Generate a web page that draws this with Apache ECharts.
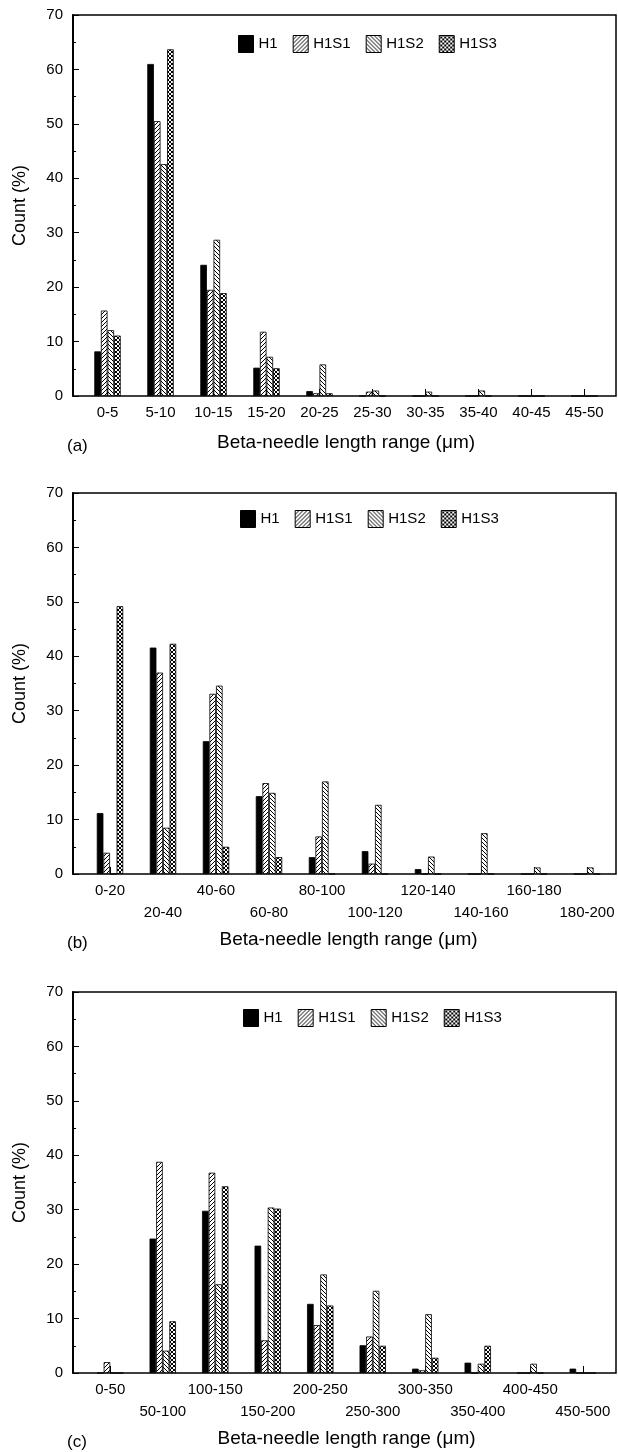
<!DOCTYPE html>
<html>
<head>
<meta charset="utf-8">
<script src="https://cdn.jsdelivr.net/npm/echarts@6/dist/echarts.min.js"></script>
<style>
html,body{margin:0;padding:0;background:#fff;}
#chart{width:618px;height:1452px;}
</style>
</head>
<body>
<div id="chart"></div>
<script>
// ---------- DATA ----------
const seriesNames = ['H1', 'H1S1', 'H1S2', 'H1S3'];
const panelLabels = ['(a)', '(b)', '(c)'];
const xTitle = 'Beta-needle length range (\u03bcm)';
const yTitle = 'Count (%)';

const categoriesA = ['0-5', '5-10', '10-15', '15-20', '20-25', '25-30', '30-35', '35-40', '40-45', '45-50'];
const h1A   = [8.2, 61, 24.1, 5.2, 0.9, 0, 0, 0, 0, 0];
const h1s1A = [15.7, 50.5, 19.5, 11.8, 0.5, 0.8, 0, 0, 0, 0];
const h1s2A = [12.1, 42.6, 28.7, 7.2, 5.8, 1.0, 0.8, 1.0, 0, 0];
const h1s3A = [11.1, 63.7, 18.9, 5.1, 0.5, 0, 0, 0, 0, 0];

const categoriesB = ['0-20', '20-40', '40-60', '60-80', '80-100', '100-120', '120-140', '140-160', '160-180', '180-200'];
const h1B   = [11.2, 41.6, 24.4, 14.3, 3.1, 4.2, 0.9, 0, 0, 0];
const h1s1B = [3.9, 37.0, 33.1, 16.7, 6.9, 1.9, 0, 0, 0, 0];
const h1s2B = [0, 8.5, 34.6, 14.9, 17.0, 12.7, 3.2, 7.5, 1.2, 1.2];
const h1s3B = [49.2, 42.3, 5.0, 3.1, 0, 0, 0, 0, 0, 0];

const categoriesC = ['0-50', '50-100', '100-150', '150-200', '200-250', '250-300', '300-350', '350-400', '400-450', '450-500'];
const h1C   = [0, 24.7, 29.8, 23.4, 12.7, 5.1, 0.8, 1.9, 0, 0.8];
const h1s1C = [2.0, 38.8, 36.8, 6.0, 8.8, 6.7, 0.5, 0, 0, 0];
const h1s2C = [0, 4.1, 16.3, 30.4, 18.1, 15.1, 10.8, 1.7, 1.7, 0];
const h1s3C = [0, 9.5, 34.3, 30.2, 12.4, 5.0, 2.8, 5.0, 0, 0];

// ---------- STYLE / LAYOUT ----------
const FONT = '"Liberation Sans", Arial, Helvetica, sans-serif';
const panels = [
  { cats: categoriesA, vals: [h1A, h1s1A, h1s2A, h1s3A], top: 15, barLeft: 81, barRight: 7, stagger: false, legendLeft: 238, legendTop: 35 },
  { cats: categoriesB, vals: [h1B, h1s1B, h1s2B, h1s3B], top: 493, barLeft: 83.5, barRight: 4.5, stagger: true, legendLeft: 240, legendTop: 510 },
  { cats: categoriesC, vals: [h1C, h1s1C, h1s2C, h1s3C], top: 992, barLeft: 84, barRight: 9, stagger: true, legendLeft: 243, legendTop: 1009 }
];
const H = 381;

function hatch(kind, size) {
  const c = document.createElement('canvas');
  c.width = size; c.height = size;
  const ctx = c.getContext('2d');
  ctx.fillStyle = '#fff';
  ctx.fillRect(0, 0, size, size);
  ctx.strokeStyle = '#000';
  ctx.lineWidth = 1;
  function fwd() {
    for (let k = -1; k <= 1; k++) {
      ctx.beginPath();
      ctx.moveTo(k * size, size); ctx.lineTo(k * size + size, 0);
      ctx.stroke();
    }
  }
  function back() {
    for (let k = -1; k <= 1; k++) {
      ctx.beginPath();
      ctx.moveTo(k * size, 0); ctx.lineTo(k * size + size, size);
      ctx.stroke();
    }
  }
  if (kind === 'fwd') fwd();
  if (kind === 'back') back();
  if (kind === 'cross') { fwd(); back(); }
  return { image: c, repeat: 'repeat' };
}
const fills = ['#000', hatch('fwd', 4), hatch('back', 4), hatch('cross', 4)];

const grid = [], xAxis = [], yAxis = [], series = [], legend = [], title = [];

panels.forEach((p, k) => {
  // frame grid (with the y axis)
  grid.push({ left: 73, right: 2, top: p.top, height: H, show: true, borderColor: '#000', borderWidth: 1.5, backgroundColor: 'transparent' });
  // bar grid
  grid.push({ left: p.barLeft, right: p.barRight, top: p.top, height: H });

  xAxis.push({ gridIndex: 2 * k, type: 'value', show: false, min: 0, max: 1 });
  xAxis.push({
    gridIndex: 2 * k + 1, type: 'category', data: p.cats,
    axisLine: { show: false },
    axisTick: { show: true, inside: true, alignWithLabel: true, length: 7, interval: 0, lineStyle: { color: '#000', width: 1 } },
    axisLabel: {
      interval: 0, fontSize: 15, color: '#000', margin: 6, lineHeight: 22, fontFamily: FONT,
      formatter: (v, i) => (p.stagger && i % 2 === 1) ? '\n' + v : v
    },
    name: xTitle, nameLocation: 'middle', nameGap: p.stagger ? 56 : 37,
    nameTextStyle: { fontSize: 19, color: '#000', fontFamily: FONT }
  });

  yAxis.push({
    gridIndex: 2 * k, type: 'value', min: 0, max: 70, interval: 10,
    axisLine: { show: true, lineStyle: { color: '#000', width: 2 } },
    axisTick: { show: true, inside: true, length: 6, lineStyle: { color: '#000' } },
    minorTick: { show: true, splitNumber: 2, length: 3, lineStyle: { color: '#000' } },
    splitLine: { show: false },
    axisLabel: { fontSize: 15, color: '#000', margin: 10, fontFamily: FONT },
    name: yTitle, nameLocation: 'middle', nameGap: 44,
    nameTextStyle: { fontSize: 18, color: '#000', fontFamily: FONT }
  });
  yAxis.push({ gridIndex: 2 * k + 1, type: 'value', min: 0, max: 70, show: false });

  seriesNames.forEach((name, s) => {
    series.push({
      type: 'bar', name: name,
      xAxisIndex: 2 * k + 1, yAxisIndex: 2 * k + 1,
      data: p.vals[s],
      barWidth: 6.6, barGap: '0%',
      itemStyle: { color: fills[s], borderColor: '#000', borderWidth: 0.8 },
      silent: true
    });
  });

  legend.push({
    data: seriesNames, left: p.legendLeft, top: p.legendTop, padding: 0,
    itemWidth: 15, itemHeight: 17, itemGap: 15, icon: 'rect',
    itemStyle: { borderColor: '#000', borderWidth: 1 },
    textStyle: { fontSize: 15, color: '#000', fontFamily: FONT },
    selectedMode: false
  });

  title.push({
    text: panelLabels[k], left: 62,
    top: p.top + H + (p.stagger ? 56 : 37),
    textStyle: { fontSize: 17, fontWeight: 'normal', color: '#000', fontFamily: FONT }
  });
});

const chart = echarts.init(document.getElementById('chart'), null, { renderer: 'canvas' });
chart.setOption({
  animation: false,
  backgroundColor: '#fff',
  textStyle: { fontFamily: FONT, color: '#000' },
  title, legend, grid, xAxis, yAxis, series
});
</script>
</body>
</html>
